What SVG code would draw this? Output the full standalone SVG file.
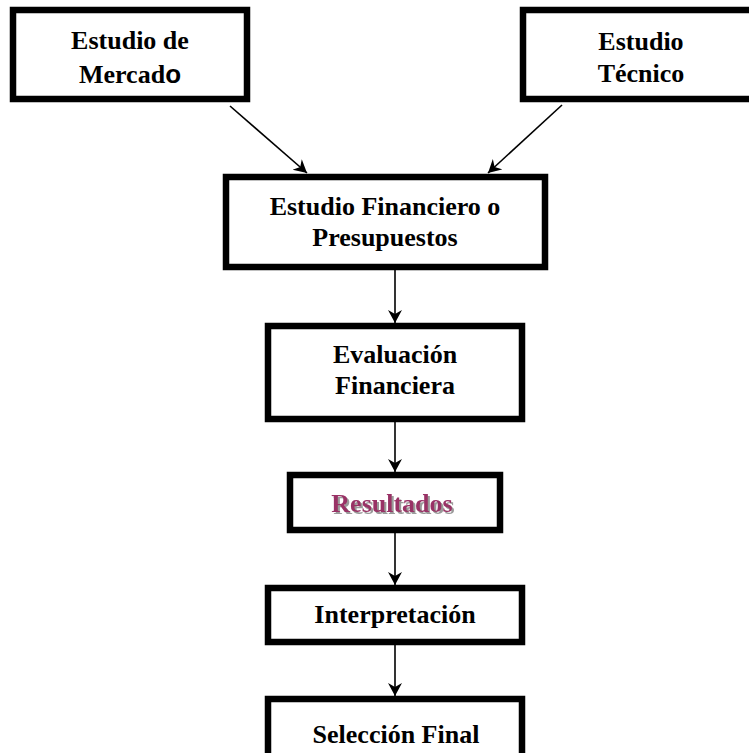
<svg xmlns="http://www.w3.org/2000/svg" width="749" height="753" viewBox="0 0 749 753">
<style>
.box{fill:#fff;stroke:#000;stroke-width:6.5}
.t{font-family:"Liberation Serif","Times New Roman",serif;font-weight:bold;font-size:26px;fill:#000;text-anchor:middle}
.res{fill:#993366;filter:url(#shadow)}
.c{stroke:#000;stroke-width:1.6;fill:none;marker-end:url(#ah)}
</style>
<defs>
<marker id="ah" markerUnits="userSpaceOnUse" markerWidth="16" markerHeight="16" refX="13" refY="7" orient="auto">
<path d="M0,0 L13,7 L0,14 L4,7 z" fill="#000"/>
</marker>
<filter id="shadow" x="-10%" y="-30%" width="120%" height="160%">
<feOffset in="SourceAlpha" dx="2" dy="2" result="off"/>
<feFlood flood-color="#9a9a9a"/>
<feComposite in2="off" operator="in" result="sh"/>
<feMerge><feMergeNode in="sh"/><feMergeNode in="SourceGraphic"/></feMerge>
</filter>
</defs>
<rect width="749" height="753" fill="#fff"/>
<g id="connectors">
<line class="c" x1="230" y1="106" x2="307" y2="173"/>
<line class="c" x1="562" y1="105" x2="488" y2="173"/>
<line class="c" x1="395" y1="270" x2="395" y2="323"/>
<line class="c" x1="395" y1="422" x2="395" y2="472"/>
<line class="c" x1="395" y1="533" x2="395" y2="585"/>
<line class="c" x1="395" y1="645" x2="395" y2="696"/>
</g>
<g id="mercado">
<rect class="box" x="13" y="10" width="234" height="89"/>
<text class="t" x="130" y="49">Estudio de</text>
<text class="t" x="130" y="83">Mercad<tspan font-family="Liberation Sans, Arial, sans-serif">o</tspan></text>
</g>
<g id="tecnico">
<rect class="box" x="523" y="10" width="236" height="89"/>
<text class="t" x="641" y="50">Estudio</text>
<text class="t" x="641" y="82">Técnico</text>
</g>
<g id="financiero">
<rect class="box" x="226" y="177" width="319" height="90"/>
<text class="t" x="385" y="215">Estudio Financiero o</text>
<text class="t" x="385" y="246">Presupuestos</text>
</g>
<g id="evaluacion">
<rect class="box" x="268" y="326" width="254" height="93"/>
<text class="t" x="395" y="363">Evaluación</text>
<text class="t" x="395" y="394">Financiera</text>
</g>
<g id="resultados">
<rect class="box" x="290" y="475" width="210" height="55"/>
<text class="t res" x="392" y="512">Resultados</text>
</g>
<g id="interpretacion">
<rect class="box" x="268" y="588" width="254" height="54"/>
<text class="t" x="395" y="623">Interpretación</text>
</g>
<g id="seleccion">
<rect class="box" x="268" y="699" width="254" height="62"/>
<text class="t" x="396" y="743">Selección Final</text>
</g>
</svg>
